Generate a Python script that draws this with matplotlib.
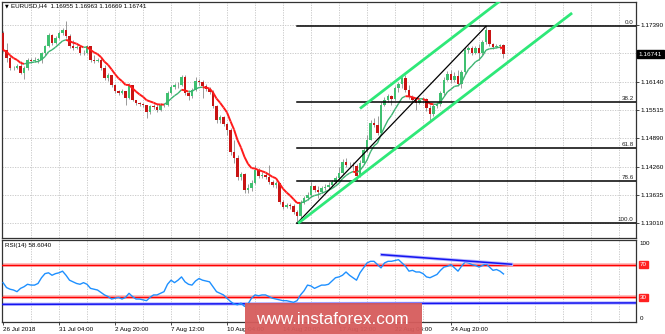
import numpy as np
import pandas as pd
import matplotlib.pyplot as plt
from matplotlib.collections import LineCollection
from matplotlib.patches import Rectangle

plt.rcParams['font.family'] = ['Liberation Sans', 'DejaVu Sans']

# EURUSD H4 candles (open of each bar = previous close)
first_open = 1.1721
close = [1.1684, 1.1666, 1.1644, 1.1644, 1.1648, 1.1633, 1.1644, 1.1662, 1.1659, 1.1662,
         1.1662, 1.1677, 1.1693, 1.1717, 1.1699, 1.1710, 1.1721, 1.1728, 1.1715, 1.1693,
         1.1688, 1.1690, 1.1677, 1.1677, 1.1693, 1.1662, 1.1659, 1.1662, 1.1644, 1.1622,
         1.1628, 1.1606, 1.1593, 1.1589, 1.1593, 1.1578, 1.1606, 1.1573, 1.1567, 1.1564,
         1.1562, 1.1547, 1.1560, 1.1558, 1.1551, 1.1562, 1.1562, 1.1589, 1.1602, 1.1606,
         1.1606, 1.1624, 1.1589, 1.1582, 1.1595, 1.1615, 1.1613, 1.1604, 1.1598, 1.1591,
         1.1560, 1.1529, 1.1536, 1.1520, 1.1507, 1.1458, 1.1445, 1.1403, 1.1410, 1.1375,
         1.1379, 1.1390, 1.1419, 1.1406, 1.1408, 1.1403, 1.1392, 1.1386, 1.1390, 1.1348,
         1.1337, 1.1341, 1.1339, 1.1326, 1.1317, 1.1346, 1.1357, 1.1364, 1.1383, 1.1375,
         1.1370, 1.1379, 1.1381, 1.1386, 1.1392, 1.1401, 1.1412, 1.1436, 1.1430, 1.1430,
         1.1428, 1.1406, 1.1434, 1.1463, 1.1485, 1.1523, 1.1518, 1.1500, 1.1562, 1.1573,
         1.1582, 1.1576, 1.1600, 1.1609, 1.1622, 1.1595, 1.1580, 1.1573, 1.1567, 1.1573,
         1.1576, 1.1556, 1.1542, 1.1560, 1.1564, 1.1589, 1.1617, 1.1631, 1.1617, 1.1626,
         1.1609, 1.1635, 1.1684, 1.1688, 1.1677, 1.1688, 1.1677, 1.1701, 1.1728, 1.1697,
         1.1690, 1.1693, 1.16955, 1.16741]
high = [1.1726, 1.1699, 1.1670, 1.1648, 1.1653, 1.1659, 1.1648, 1.1666, 1.1666, 1.1668,
        1.1666, 1.1679, 1.1695, 1.1721, 1.1719, 1.1715, 1.1726, 1.1732, 1.1748, 1.1719,
        1.1706, 1.1695, 1.1695, 1.1684, 1.1695, 1.1688, 1.1673, 1.1666, 1.1666, 1.1651,
        1.1633, 1.1628, 1.1609, 1.1595, 1.1598, 1.1591, 1.1611, 1.1595, 1.1573, 1.1569,
        1.1567, 1.1560, 1.1562, 1.1564, 1.1564, 1.1567, 1.1567, 1.1593, 1.1606, 1.1611,
        1.1613, 1.1628, 1.1628, 1.1595, 1.1600, 1.1624, 1.1620, 1.1617, 1.1609, 1.1602,
        1.1595, 1.1562, 1.1540, 1.1538, 1.1523, 1.1511, 1.1485, 1.1452, 1.1414, 1.1412,
        1.1388, 1.1397, 1.1430, 1.1423, 1.1414, 1.1412, 1.1430, 1.1397, 1.1394, 1.1388,
        1.1353, 1.1346, 1.1346, 1.1344, 1.1330, 1.1353, 1.1361, 1.1370, 1.1392, 1.1386,
        1.1383, 1.1383, 1.1388, 1.1392, 1.1397, 1.1406, 1.1425, 1.1443, 1.1445, 1.1436,
        1.1436, 1.1432, 1.1441, 1.1467, 1.1496, 1.1529, 1.1534, 1.1538, 1.1569, 1.1580,
        1.1587, 1.1584, 1.1604, 1.1613, 1.1628, 1.1628, 1.1606, 1.1584, 1.1576, 1.1578,
        1.1580, 1.1578, 1.1562, 1.1564, 1.1569, 1.1593, 1.1624, 1.1637, 1.1640, 1.1635,
        1.1640, 1.1640, 1.1690, 1.1693, 1.1693, 1.1693, 1.1697, 1.1706, 1.1736, 1.1723,
        1.1699, 1.1697, 1.1697, 1.16963]
low = [1.1679, 1.1657, 1.1640, 1.1640, 1.1642, 1.1631, 1.1620, 1.1640, 1.1655, 1.1657,
       1.1655, 1.1655, 1.1673, 1.1690, 1.1695, 1.1697, 1.1708, 1.1717, 1.1710, 1.1688,
       1.1684, 1.1686, 1.1673, 1.1673, 1.1675, 1.1657, 1.1655, 1.1657, 1.1640, 1.1617,
       1.1615, 1.1602, 1.1589, 1.1584, 1.1587, 1.1562, 1.1576, 1.1571, 1.1562, 1.1560,
       1.1558, 1.1534, 1.1542, 1.1553, 1.1547, 1.1549, 1.1558, 1.1560, 1.1587, 1.1598,
       1.1600, 1.1604, 1.1584, 1.1573, 1.1578, 1.1593, 1.1606, 1.1578, 1.1593, 1.1587,
       1.1556, 1.1523, 1.1523, 1.1516, 1.1496, 1.1452, 1.1434, 1.1397, 1.1397, 1.1368,
       1.1368, 1.1372, 1.1388, 1.1401, 1.1401, 1.1399, 1.1388, 1.1381, 1.1379, 1.1344,
       1.1333, 1.1335, 1.1333, 1.1322, 1.1301, 1.1313, 1.1344, 1.1353, 1.1359, 1.1370,
       1.1357, 1.1368, 1.1375, 1.1377, 1.1383, 1.1390, 1.1399, 1.1410, 1.1425, 1.1423,
       1.1419, 1.1397, 1.1403, 1.1432, 1.1458, 1.1485, 1.1514, 1.1496, 1.1498, 1.1560,
       1.1569, 1.1562, 1.1573, 1.1591, 1.1600, 1.1591, 1.1576, 1.1569, 1.1551, 1.1564,
       1.1567, 1.1549, 1.1529, 1.1538, 1.1556, 1.1560, 1.1584, 1.1615, 1.1611, 1.1613,
       1.1604, 1.1600, 1.1631, 1.1677, 1.1673, 1.1675, 1.1662, 1.1673, 1.1697, 1.1693,
       1.1686, 1.1688, 1.1686, 1.16669]

rsi = [48, 42, 40, 39, 37, 41, 43, 46, 45, 45, 47, 54, 59, 60, 57, 59, 60, 62, 57, 51,
       49, 47, 46, 48, 46, 41, 40, 39, 36, 33, 31, 28, 29, 30, 28, 30, 35, 31, 28, 28,
       27, 26, 30, 33, 33, 35, 37, 46, 51, 48, 51, 55, 49, 46, 45, 50, 53, 51, 50, 49,
       43, 37, 35, 33, 29, 25, 22, 21, 23, 19, 22, 29, 33, 32, 33, 33, 31, 29, 28, 27,
       26, 26, 25, 24, 26, 33, 38, 45, 44, 41, 43, 45, 45, 46, 50, 54, 55, 57, 61, 57,
       54, 51, 60, 66, 72, 74, 74, 70, 66, 72, 74, 74, 75, 76, 72, 68, 62, 63, 61, 61,
       59, 55, 54, 56, 58, 63, 67, 68, 70, 66, 62, 68, 73, 72, 70, 69, 67, 69, 71, 67,
       63, 64, 62, 58.604]

price_ticks = [1.13010, 1.13635, 1.14260, 1.14890, 1.15515, 1.16140, 1.16765, 1.17390]
price_labels = ['1.13010', '1.13635', '1.14260', '1.14890', '1.15515', '1.16140', '', '1.17390']
time_ticks = [0, 16, 32, 48, 64, 80, 96, 112, 128]
time_labels = ['26 Jul 2018', '31 Jul 04:00', '2 Aug 20:00', '7 Aug 12:00', '10 Aug 04:00',
               '14 Aug 20:00', '17 Aug 12:00', '22 Aug 04:00', '24 Aug 20:00']

# drawn objects: fibo retracement, trend channel, rsi trendlines
fib_start_bar = 84
fib_low, fib_high = 1.1301, 1.1736
fib_levels = [0.0, 38.2, 61.8, 78.6, 100.0]
trend_bars, trend_prices = [84, 138], [1.1301, 1.1736]
chan_low_bars, chan_low_prices = [84.3, 162.6], [1.1301, 1.17654]
chan_up_bars, chan_up_prices = [102, 143], [1.15545, 1.1798]
rsi_div_bars, rsi_div_vals = [108.2, 145.3], [82.1, 70.4]
rsi_base_bars, rsi_base_vals = [-1, 181], [21.5, 23.3]

bull, bear, wick = '#3fc070', '#c81414', '#8a8a8a'
grid_c = '#c4c4c4'

fig = plt.figure(figsize=(6.65, 3.34), dpi=100)
W, H = 665, 334
ax = fig.add_axes([2 / W, 1 - 238 / H, 634 / W, 236 / H])
ax2 = fig.add_axes([2 / W, 1 - 322 / H, 634 / W, 82 / H])
xlim = (-0.29, 180.86)

c = np.array(close)
o = np.array([first_open] + close[:-1])
x = np.arange(len(c))
up = c >= o

# grid
for a in (ax, ax2):
    for g in range(8, 181, 8):
        a.axvline(g, color=grid_c, lw=0.6, ls=(0, (1.5, 1.5)), zorder=0)
for p in price_ticks:
    ax.axhline(p, color=grid_c, lw=0.6, ls=(0, (1.5, 1.5)), zorder=0)

# candles
ax.vlines(x, low, high, color=wick, lw=0.6, zorder=2)
ax.bar(x, np.maximum(np.abs(c - o), 0.00008), bottom=np.minimum(o, c), width=0.72,
       color=np.where(up, bull, bear), lw=0, zorder=3)

# moving average, red when falling, green when rising
ma = pd.Series(c).ewm(span=8, adjust=False).mean().values
pts = np.column_stack([x, ma])
segs = np.stack([pts[:-1], pts[1:]], axis=1)
falling = ma[1:] < ma[:-1]
lc = LineCollection(segs, colors=np.where(falling, '#ff1a1a', '#3cb371'),
                    linewidths=np.where(falling, 1.4, 1.0), zorder=4)
ax.add_collection(lc)

# fibonacci
rng = fib_high - fib_low
for lv in fib_levels:
    y = fib_high - rng * lv / 100
    ax.plot([fib_start_bar, xlim[1]], [y, y], color='black', lw=1.1, zorder=5)
    ax.text(180.2, y + 0.0002, f'{lv:.1f}', ha='right', va='bottom', fontsize=4.5, color='#222222')

ax.plot(trend_bars, trend_prices, color='black', lw=0.9, zorder=5)
ax.plot(chan_low_bars, chan_low_prices, color='#2ee878', lw=2.0, zorder=5, solid_capstyle='butt')
ax.plot(chan_up_bars, chan_up_prices, color='#2ee878', lw=2.0, zorder=5, solid_capstyle='butt')

ax.set_xlim(*xlim)
ax.set_ylim(1.12686, 1.17897)
ax.set_xticks([])
ax.yaxis.tick_right()
ax.set_yticks(price_ticks)
ax.set_yticklabels(price_labels)
ax.tick_params(axis='y', length=2, width=0.5, pad=1.5, labelsize=4.6)
ax.text(1.004, c[-1], '1.16741', transform=ax.get_yaxis_transform(), ha='left', va='center',
        fontsize=4.6, color='white',
        bbox=dict(boxstyle='square,pad=0.25', fc='black', ec='black'))
ax.text(0.004, 0.992, '\u25bc', transform=ax.transAxes, ha='left', va='top', fontsize=3.5,
        family=['DejaVu Sans'])
ax.text(0.014, 0.993, 'EURUSD,H4  1.16955 1.16963 1.16669 1.16741', transform=ax.transAxes,
        ha='left', va='top', fontsize=4.5)

# RSI panel
ax2.plot(rsi_base_bars, rsi_base_vals, color='#b8b8ff', lw=2.4, zorder=2)
ax2.plot(rsi_base_bars, rsi_base_vals, color='#1414f0', lw=1.1, zorder=3)
for lv in (70, 30):
    ax2.axhline(lv, color='#ffb0b0', lw=2.6, zorder=2)
    ax2.axhline(lv, color='#ff0000', lw=1.0, zorder=3)
ax2.plot(x, rsi, color='#1e90ff', lw=1.0, zorder=4)
ax2.plot(rsi_div_bars, rsi_div_vals, color='#b8b8ff', lw=2.4, zorder=4)
ax2.plot(rsi_div_bars, rsi_div_vals, color='#1414f0', lw=1.1, zorder=5)
ax2.set_xlim(*xlim)
ax2.set_ylim(0, 100)
ax2.set_yticks([])
ax2.set_xticks(time_ticks)
ax2.set_xticklabels(time_labels, ha='left')
ax2.tick_params(axis='x', length=2, width=0.5, pad=1.5, labelsize=4.5)
ax2.text(0.004, 0.96, 'RSI(14) 58.6040', transform=ax2.transAxes, ha='left', va='top', fontsize=4.5)
ytr = ax2.get_yaxis_transform()
ax2.text(1.006, 99, '100', transform=ytr, ha='left', va='top', fontsize=4.5)
ax2.text(1.006, 1, '0', transform=ytr, ha='left', va='bottom', fontsize=4.5)
for lv in (70, 30):
    ax2.text(1.006, lv, str(lv), transform=ytr, ha='left', va='center', fontsize=4.5, color='white',
             bbox=dict(boxstyle='square,pad=0.15', fc='#ff2020', ec='#ff2020'))

for a in (ax, ax2):
    for s in a.spines.values():
        s.set_linewidth(0.9)
        s.set_color('#333333')

# watermark
fig.add_artist(Rectangle((245 / W, 0), 177 / W, 31 / H, transform=fig.transFigure,
                         fc='#d65c5c', ec='none', alpha=0.95, zorder=10))
fig.text(332 / W, 1 - 319 / H, 'www.instaforex.com', ha='center', va='center', fontsize=12.3,
         color='white', zorder=11)

fig.savefig('out.png', dpi=100)
